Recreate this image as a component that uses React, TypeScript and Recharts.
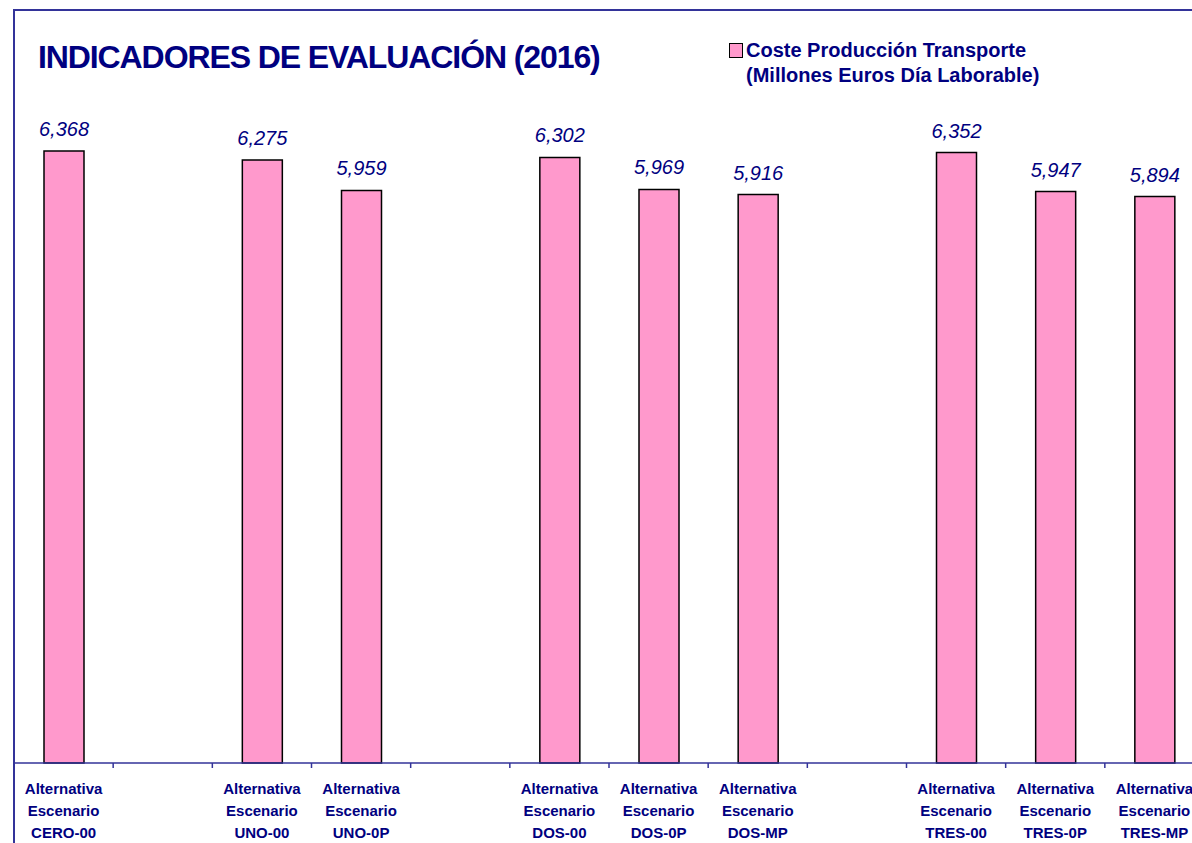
import React from 'react';
import { BarChart, Bar, XAxis, YAxis, LabelList } from 'recharts';

// slots along the axis, empty strings are the spacer slots between groups
const scenarios = ['CERO-00', '', 'UNO-00', 'UNO-0P', '', 'DOS-00', 'DOS-0P', 'DOS-MP', '', 'TRES-00', 'TRES-0P', 'TRES-MP'];
const coste = [6368, null, 6275, 5959, null, 6302, 5969, 5916, null, 6352, 5947, 5894];
const labelLines = ['Alternativa', 'Escenario'];
const seriesName = ['Coste Producción Transporte', '(Millones Euros Día Laborable)'];
const titleText = 'INDICADORES DE EVALUACIÓN (2016)';

const data = scenarios.map((s, i) => ({ key: s || `gap-${i}`, scenario: s, coste: coste[i] }));

const NAVY = '#000080';
const FRAME = '#333399';
const FONT = '"Liberation Sans", Arial, sans-serif';

const CHART_W = 1230;
const CHART_H = 843;
const M_LEFT = 14;
const M_RIGHT = 26;
const PLOT_W = CHART_W - M_LEFT - M_RIGHT;
const SLOT = PLOT_W / scenarios.length;

const fmt = (v: any) => (v == null ? '' : Number(v).toLocaleString('en-US'));

const CategoryTick = (props: any) => {
  const { x, y, payload, index } = props;
  const item = data[index] || data.find((d) => d.key === payload.value);
  const left = x - SLOT / 2;
  return (
    <g>
      <line x1={left} y1={y - 5} x2={left} y2={y} stroke={FRAME} strokeWidth={1.5} />
      {item && item.scenario ? (
        <text textAnchor="middle" fill={NAVY} fontFamily={FONT} fontWeight="bold" fontSize={15}>
          <tspan x={x} y={y + 26}>{labelLines[0]}</tspan>
          <tspan x={x} y={y + 48}>{labelLines[1]}</tspan>
          <tspan x={x} y={y + 70}>{item.scenario}</tspan>
        </text>
      ) : null}
    </g>
  );
};

const LegendBox = () => (
  <div style={{ display: 'flex', alignItems: 'flex-start', fontFamily: FONT, fontWeight: 'bold', fontSize: 20, color: NAVY, lineHeight: '25px', whiteSpace: 'nowrap' }}>
    <span style={{ display: 'inline-block', width: 12, height: 13, background: '#FF99CC', border: '1.5px solid #000', marginTop: 5, marginRight: 3 }} />
    <div>
      <div>{seriesName[0]}</div>
      <div>{seriesName[1]}</div>
    </div>
  </div>
);

export default function App() {
  return (
    <div style={{ position: 'fixed', left: 0, top: 0, width: 1192, height: 843, overflow: 'hidden', background: '#fff' }}>
      <div style={{ position: 'absolute', left: 13, top: 9, width: 1300, height: 1000, borderLeft: `2px solid ${FRAME}`, borderTop: `2px solid ${FRAME}` }} />
      <div style={{ position: 'absolute', left: 38, top: 41, fontFamily: FONT, fontWeight: 'bold', fontSize: 32, lineHeight: '32px', letterSpacing: '-1.1px', color: NAVY, whiteSpace: 'nowrap' }}>
        {titleText}
      </div>
      <div style={{ position: 'absolute', left: 729, top: 38 }}>
        <LegendBox />
      </div>
      <div style={{ position: 'absolute', left: 0, top: 0 }}>
        <BarChart width={CHART_W} height={CHART_H} data={data} margin={{ top: 148, right: M_RIGHT, bottom: 0, left: M_LEFT }} barSize={40}>
          <XAxis
            dataKey="key"
            height={80}
            interval={0}
            tickLine={false}
            tickSize={5}
            tickMargin={0}
            axisLine={{ stroke: FRAME, strokeWidth: 1.5 }}
            tick={<CategoryTick />}
          />
          <YAxis width={0} domain={[0, 6400]} tick={false} tickLine={false} axisLine={{ stroke: '#4a4aa8', strokeWidth: 2 }} />
          <Bar dataKey="coste" name={seriesName.join(' ')} fill="#FF99CC" stroke="#000" strokeWidth={1.5} isAnimationActive={false}>
            <LabelList dataKey="coste" position="top" offset={15} formatter={fmt} fill={NAVY} fontFamily={FONT} fontStyle="italic" fontSize={20} />
          </Bar>
        </BarChart>
      </div>
    </div>
  );
}
